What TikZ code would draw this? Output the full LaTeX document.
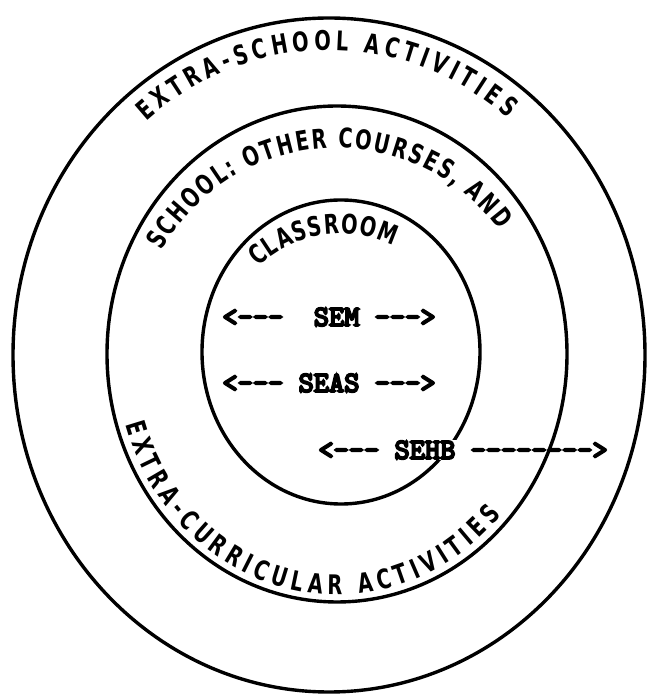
\documentclass[tikz,border=0pt]{standalone}
\usepackage{fontspec}
\newfontfamily\handfont[FakeStretch=0.72]{DejaVu Sans}
\newfontfamily\codefont[FakeBold=7]{lmmono10-regular.otf}
\usetikzlibrary{decorations.text}
\begin{document}
\begin{tikzpicture}[x=1pt,y=1pt,
  ring/.style={line width=3.4pt},
  codelabel/.style={font=\codefont\fontsize{29}{30}\selectfont, inner sep=1pt},
  handtext/.style={decorate, decoration={text along path, text align=fit to path, text={#1}}}]
\useasboundingbox (0,0) rectangle (647,696);
\fill[white] (0,0) rectangle (647,696);
% outer ring
\draw[ring] (329,341) ellipse [x radius=316, y radius=337];
% inner ring (drawn before the SEHB label so that the label breaks it)
\draw[ring] (341,344) ellipse [x radius=139, y radius=152];
% labels
\node[codelabel] (sem) at (329,379) {<-{}-{}-\ \ SEM -{}-{}->};
\node[codelabel] (seas) at (329,313) {<-{}-{}- SEAS -{}-{}->};
\node[codelabel, fill=white] (sehb) at (463,246) {<-{}-{}- SEHB -{}-{}-{}-{}-{}-{}-{}->};
% middle ring (crosses the SEHB dashes)
\draw[ring] (337,342) ellipse [x radius=230, y radius=248];
% curved handwritten texts
\path[handtext={|\handfont\bfseries\fontsize{27}{27}\selectfont|EXTRA-SCHOOL ACTIVITIES}]
  ([shift={(130:284 and 305)}]329,341) arc[start angle=130, end angle=51, x radius=284, y radius=305];
\path[handtext={|\handfont\bfseries\fontsize{27}{27}\selectfont|SCHOOL: OTHER COURSES, AND}]
  ([shift={(150:203 and 206)}]337,342) arc[start angle=150, end angle=37, x radius=203, y radius=206];
\path[handtext={|\handfont\bfseries\fontsize{27}{27}\selectfont|CLASSROOM}]
  ([shift={(134:119 and 118)}]341,344) arc[start angle=134, end angle=64, x radius=119, y radius=118];
\path[handtext={|\handfont\bfseries\fontsize{27}{27}\selectfont|EXTRA-CURRICULAR ACTIVITIES}]
  ([shift={(197:221 and 241)}]337,342) arc[start angle=197, end angle=318, x radius=221, y radius=241];
\end{tikzpicture}
\end{document}
